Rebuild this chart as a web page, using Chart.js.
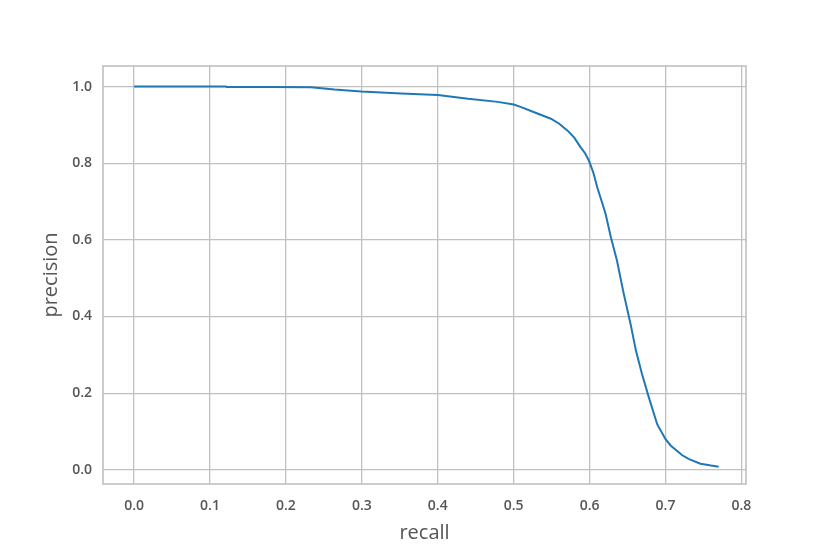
<!DOCTYPE html>
<html>
<head>
<meta charset="utf-8">
<script src="https://cdn.jsdelivr.net/npm/chart.js@4"></script>
<style>
  body { margin: 0; background: #fff; }
  #wrap { width: 830px; height: 554px; }
</style>
</head>
<body>
<div id="wrap"><canvas id="pr-chart"></canvas></div>
<script>
// precision-recall curve
const recall = [0.000, 0.050, 0.100, 0.121, 0.122, 0.180, 0.233, 0.264, 0.299, 0.352, 0.400, 0.440,
    0.479, 0.500, 0.509, 0.527, 0.549, 0.560, 0.571, 0.580, 0.588, 0.594, 0.599, 0.605, 0.610,
    0.616, 0.621, 0.628, 0.636, 0.645, 0.654, 0.661, 0.669, 0.678, 0.689, 0.700, 0.707, 0.715,
    0.722, 0.731, 0.746, 0.760, 0.770];
const precision = [1.000, 1.000, 1.000, 1.000, 0.999, 0.999, 0.998, 0.992, 0.987, 0.982, 0.978, 0.968,
    0.960, 0.953, 0.947, 0.933, 0.916, 0.903, 0.885, 0.866, 0.842, 0.826, 0.807, 0.775, 0.737,
    0.700, 0.668, 0.607, 0.546, 0.459, 0.380, 0.311, 0.250, 0.189, 0.119, 0.080, 0.063, 0.050,
    0.038, 0.028, 0.016, 0.011, 0.008];
const xTicks = [0, 0.1, 0.2, 0.3, 0.4, 0.5, 0.6, 0.7, 0.8];
const yTicks = [0, 0.2, 0.4, 0.6, 0.8, 1.0];

const gridColor = '#c0c0c0';
const textColor = '#555555';
const fontFamily = '"Open Sans", sans-serif';

// matplotlib-style frame around the plot area
const framePlugin = {
    id: 'frame',
    afterDraw(chart) {
        const { ctx, chartArea: a } = chart;
        ctx.save();
        ctx.strokeStyle = gridColor;
        ctx.lineWidth = 1.6;
        ctx.strokeRect(a.left, a.top, a.right - a.left, a.bottom - a.top);
        ctx.restore();
    }
};

new Chart(document.getElementById('pr-chart'), {
    type: 'line',
    data: {
        datasets: [{
            data: recall.map((r, i) => ({ x: r, y: precision[i] })),
            borderColor: '#1f77b4',
            borderWidth: 2,
            pointRadius: 0,
            tension: 0,
            fill: false
        }]
    },
    options: {
        responsive: true,
        maintainAspectRatio: false,
        animation: false,
        layout: { padding: { left: 39, top: 66, right: 84, bottom: 0 } },
        plugins: { legend: { display: false }, tooltip: { enabled: false } },
        scales: {
            x: {
                type: 'linear',
                min: -0.041,
                max: 0.806,
                afterFit: (s) => { s.height = 70; },
                afterBuildTicks: (s) => { s.ticks = xTicks.map(v => ({ value: v })); },
                border: { display: false },
                grid: { color: gridColor, lineWidth: 1.3, drawTicks: false },
                ticks: {
                    padding: 14,
                    color: textColor,
                    font: { family: fontFamily, size: 14, weight: '600' },
                    callback: (v) => v.toFixed(1)
                },
                title: {
                    display: true,
                    text: 'recall',
                    color: textColor,
                    padding: { top: 0, bottom: 9 },
                    font: { family: fontFamily, size: 20 }
                }
            },
            y: {
                min: -0.037,
                max: 1.0536,
                afterFit: (s) => { s.width = 64; },
                afterBuildTicks: (s) => { s.ticks = yTicks.map(v => ({ value: v })); },
                border: { display: false },
                grid: { color: gridColor, lineWidth: 1.3, drawTicks: false },
                ticks: {
                    padding: 11,
                    color: textColor,
                    font: { family: fontFamily, size: 14, weight: '600' },
                    callback: (v) => v.toFixed(1)
                },
                title: {
                    display: true,
                    text: 'precision',
                    color: textColor,
                    padding: { top: 0, bottom: 0 },
                    font: { family: fontFamily, size: 20 }
                }
            }
        }
    },
    plugins: [framePlugin]
});
</script>
</body>
</html>
